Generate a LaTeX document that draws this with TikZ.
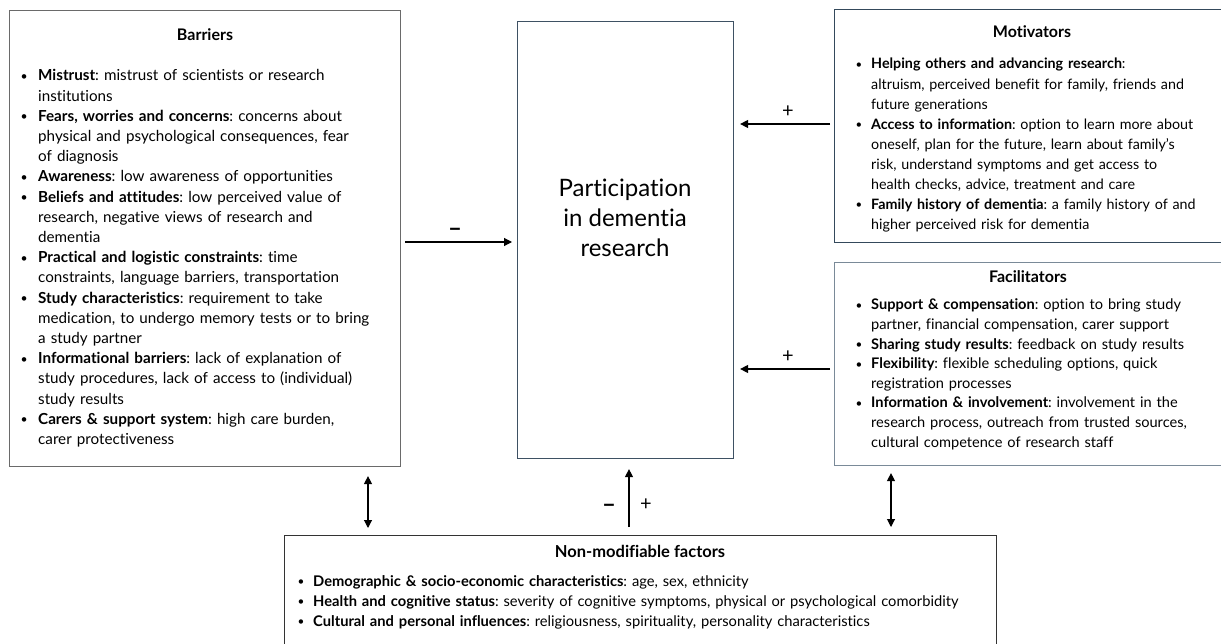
\documentclass[tikz,border=0pt]{standalone}
\usepackage{fontspec}
\setmainfont{Lato}[Ligatures=NoCommon]
\usetikzlibrary{arrows.meta}
\definecolor{cbar}{HTML}{6A6A6A}
\definecolor{cctr}{HTML}{3E5163}
\definecolor{cmot}{HTML}{34495B}
\definecolor{cfac}{HTML}{7A8A98}
\definecolor{cnm}{HTML}{333333}
\newlength{\hangw}
\setlength{\hangw}{17pt}
\newcommand{\bitem}[2]{\noindent\hangindent=\hangw\hangafter=1\makebox[\hangw][l]{\hspace{0.5pt}\raisebox{0.05em}{\scalebox{0.8}{\textbullet}}}\textbf{#1}: #2\par}
\tikzset{
  box/.style={draw=#1, line width=1.1pt, inner sep=0pt, anchor=north west},
  ttl/.style={font=\bfseries\fontsize{16}{18}\selectfont, inner sep=0pt},
  lst/.style={anchor=base west, inner sep=0pt, text width=#1, align=left},
  sgn/.style={inner sep=0pt, font=\fontsize{20}{20}\selectfont},
  arr/.style={-{Triangle[length=8pt,width=8pt]}, line width=1.1pt},
  darr/.style={{Triangle[length=8pt,width=8pt]}-{Triangle[length=8pt,width=8pt]}, line width=1.1pt}
}
\begin{document}
\begin{tikzpicture}[x=1pt,y=-1pt]
\useasboundingbox (0,0) rectangle (1221,644);
% boxes
\node[box=cbar, minimum width=391pt, minimum height=456pt] (bar) at (9,10) {};
\node[box=cctr, minimum width=216pt, minimum height=437pt] (ctr) at (517,21) {};
\node[box=cmot, minimum width=392pt, minimum height=233pt] (mot) at (834,9) {};
\node[box=cfac, minimum width=392pt, minimum height=203pt] (fac) at (834,262) {};
\node[box=cnm, minimum width=712pt, minimum height=120pt] (nm) at (284,535) {};
% titles
\node[ttl] (barT) at (205,35) {Barriers};
\node[ttl] (motT) at (1032,32) {Motivators};
\node[ttl] (facT) at (1028,277) {Facilitators};
\node[ttl, font=\bfseries\fontsize{16.5}{19}\selectfont] (nmT) at (640,551) {Non-modifiable factors};
\node[inner sep=0pt, align=center, font=\fontsize{24}{30}\selectfont] (ctrT) at (625,218) {Participation\\in dementia\\research};
% lists
\node[lst=378pt, font=\fontsize{15.2}{20.2}\selectfont\frenchspacing] (barL) at (20,81) {\setlength{\hangw}{18pt}%
\bitem{Mistrust}{mistrust of scientists or research\newline institutions}%
\bitem{Fears, worries and concerns}{concerns about\newline physical and psychological consequences, fear\newline of diagnosis}%
\bitem{Awareness}{low awareness of opportunities}%
\bitem{Beliefs and attitudes}{low perceived value of\newline research, negative views of research and\newline dementia}%
\bitem{Practical and logistic constraints}{time\newline constraints, language barriers, transportation}%
\bitem{Study characteristics}{requirement to take\newline medication, to undergo memory tests or to bring\newline a study partner}%
\bitem{Informational barriers}{lack of explanation of\newline study procedures, lack of access to (individual)\newline study results}%
\bitem{Carers \& support system}{high care burden,\newline carer protectiveness}};
\node[lst=366pt, font=\fontsize{14.3}{20.1}\selectfont\frenchspacing] (motL) at (855,69) {\setlength{\hangw}{16pt}%
\bitem{Helping others and advancing research}{\newline altruism, perceived benefit for family, friends and\newline future generations}%
\bitem{Access to information}{option to learn more about\newline oneself, plan for the future, learn about family’s\newline risk, understand symptoms and get access to\newline health checks, advice, treatment and care}%
\bitem{Family history of dementia}{a family history of and\newline higher perceived risk for dementia}};
\node[lst=366pt, font=\fontsize{14.6}{19.6}\selectfont\frenchspacing] (facL) at (855,310) {\setlength{\hangw}{16pt}%
\bitem{Support \& compensation}{option to bring study\newline partner, financial compensation, carer support}%
\bitem{Sharing study results}{feedback on study results}%
\bitem{Flexibility}{flexible scheduling options, quick\newline registration processes}%
\bitem{Information \& involvement}{involvement in the\newline research process, outreach from trusted sources,\newline cultural competence of research staff}};
\node[lst=695pt, font=\fontsize{14.7}{20}\selectfont\frenchspacing] (nmL) at (297,586) {\setlength{\hangw}{16pt}%
\bitem{Demographic \& socio-economic characteristics}{age, sex, ethnicity}%
\bitem{Health and cognitive status}{severity of cognitive symptoms, physical or psychological comorbidity}%
\bitem{Cultural and personal influences}{religiousness, spirituality, personality characteristics}};
% connector helpers
\coordinate (pB) at (0,242);
\coordinate (pM) at (0,124);
\coordinate (pF) at (0,369);
\coordinate (pV) at (629,0);
\coordinate (pL) at (368,0);
\coordinate (pR) at (891,0);
% connectors
\draw[arr, shorten <=4pt, shorten >=5pt] (bar.east |- pB) -- (ctr.west |- pB);
\draw[arr, shorten <=4pt, shorten >=6pt] (mot.west |- pM) -- (ctr.east |- pM);
\draw[arr, shorten <=4pt, shorten >=6pt] (fac.west |- pF) -- (ctr.east |- pF);
\draw[arr, shorten <=8pt, shorten >=10pt] (nm.north -| pV) -- (ctr.south -| pV);
\draw[darr, shorten <=9pt, shorten >=7pt] (bar.south -| pL) -- (nm.north -| pL);
\draw[darr, shorten <=7pt, shorten >=8pt] (fac.south -| pR) -- (nm.north -| pR);
% signs
\node[sgn, font=\bfseries\fontsize{24}{24}\selectfont] (sB) at (455,232) {–};
\node[sgn] (sM) at (788,112) {+};
\node[sgn] (sF) at (788,357) {+};
\node[sgn, font=\bfseries\fontsize{24}{24}\selectfont] (sV1) at (609,508) {–};
\node[sgn] (sV2) at (646,505) {+};
\end{tikzpicture}
\end{document}
